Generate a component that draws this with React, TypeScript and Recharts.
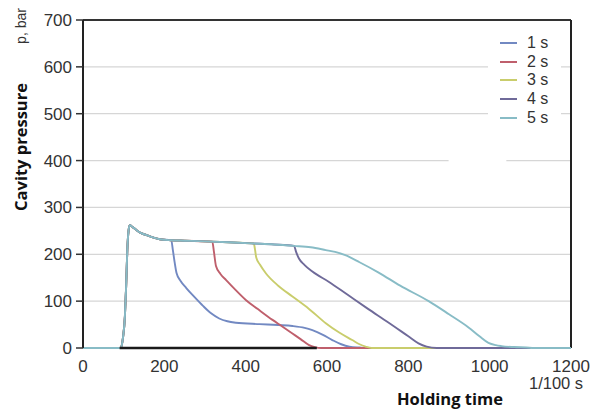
import React from 'react';
import { LineChart, Line, XAxis, YAxis, CartesianGrid, ReferenceLine, ReferenceArea } from 'recharts';

type Pt = [number, number];

const X_TICKS = [0, 200, 400, 600, 800, 1000, 1200];
const Y_TICKS = [0, 100, 200, 300, 400, 500, 600, 700];
const SERIES_NAMES = ['1 s', '2 s', '3 s', '4 s', '5 s'];
const SERIES_COLORS = ['#7289c2', '#bf5f6c', '#c9cd6c', '#6f6a99', '#88bcc6'];

// shared injection rise (1/100 s, bar)
const RISE: Pt[] = [[0, 0], [93, 0], [98, 20], [103, 67], [106, 130], [109, 210], [112, 250], [115, 262], [122, 258], [131, 252], [143, 245], [156, 241], [172, 236], [189, 232], [217, 230]];
// shared holding plateau
const PLATEAU: Pt[] = [[250, 229], [318, 227], [370, 225], [420, 223], [470, 221], [519, 218]];

const DROP_1: Pt[] = [[221, 209], [225, 185], [230, 160], [240, 143], [254, 128], [275, 108], [295, 90], [315, 74], [335, 63], [355, 57], [376, 54], [434, 51], [480, 49], [515, 47], [545, 43], [564, 38], [590, 28], [613, 17], [635, 8], [655, 3], [680, 1], [700, 0], [1100, 0]];
const DROP_2: Pt[] = [[322, 205], [327, 175], [338, 158], [352, 145], [375, 124], [401, 102], [430, 83], [466, 60], [490, 46], [515, 31], [535, 19], [556, 6], [570, 2], [585, 0], [1100, 0]];
const DROP_3: Pt[] = [[423, 210], [426, 193], [435, 178], [450, 159], [480, 133], [515, 110], [555, 84], [597, 53], [630, 33], [662, 17], [680, 8], [695, 3], [710, 0], [1100, 0]];
const DROP_4: Pt[] = [[524, 205], [531, 191], [545, 177], [564, 163], [605, 141], [650, 114], [700, 84], [750, 55], [800, 25], [825, 10], [845, 3], [870, 0], [1100, 0]];
const DROP_5: Pt[] = [[560, 215], [597, 209], [620, 205], [645, 198], [680, 183], [727, 161], [780, 133], [850, 100], [900, 72], [948, 44], [975, 25], [997, 11], [1015, 6], [1029, 4], [1060, 2], [1090, 1], [1110, 0], [1200, 0]];

const BASE_SEGMENT: Pt[] = [[90, 0], [575, 0]];
const GRID_GAP = { x1: 899, x2: 1041, y1: 392, y2: 408 };

const toObj = (pts: Pt[]) => pts.map(([x, y]) => ({ x, y }));
const upTo = (pts: Pt[], xmax: number) => pts.filter(([x]) => x <= xmax);

const SERIES = [
  toObj([...RISE, ...DROP_1]),
  toObj([...RISE, ...upTo(PLATEAU, 318), ...DROP_2]),
  toObj([...RISE, ...upTo(PLATEAU, 420), ...DROP_3]),
  toObj([...RISE, ...upTo(PLATEAU, 519), ...DROP_4]),
  toObj([...RISE, ...upTo(PLATEAU, 519), ...DROP_5]),
];

const SANS = "'Liberation Sans', Arial, Helvetica, sans-serif";
const tickStyle = { fontFamily: SANS, fontSize: 17, fill: '#333' };

export default function App() {
  return (
    <div style={{ position: 'relative', width: 598, height: 401, fontFamily: SANS }}>
      <LineChart width={598} height={401} margin={{ top: 12, right: 35, left: 15, bottom: 31 }}>
        <CartesianGrid horizontal vertical={false} stroke="#d6d6d6" strokeWidth={1.2} />
        <ReferenceArea x1={GRID_GAP.x1} x2={GRID_GAP.x2} y1={GRID_GAP.y1} y2={GRID_GAP.y2} fill="#ffffff" fillOpacity={1} stroke="none" />
        <XAxis
          type="number"
          dataKey="x"
          domain={[0, 1200]}
          ticks={X_TICKS}
          axisLine={false}
          tickLine={false}
          tick={tickStyle}
          tickMargin={6}
          height={30}
          allowDataOverflow
        />
        <YAxis
          type="number"
          domain={[0, 700]}
          ticks={Y_TICKS}
          axisLine={{ stroke: '#222', strokeWidth: 2 }}
          tickLine={{ stroke: '#333', strokeWidth: 1.5 }}
          tickSize={7}
          tickMargin={4}
          tick={tickStyle}
          width={60}
          interval={0}
        />
        <ReferenceLine y={700} stroke="#333" strokeWidth={2} />
        <ReferenceLine x={1200} stroke="#222" strokeWidth={2} />
        {SERIES.map((d, i) => (
          <Line
            key={SERIES_NAMES[i]}
            data={d}
            dataKey="y"
            name={SERIES_NAMES[i]}
            type="monotone"
            stroke={SERIES_COLORS[i]}
            strokeWidth={1.9}
            dot={false}
            isAnimationActive={false}
          />
        ))}
        <ReferenceLine
          segment={[{ x: BASE_SEGMENT[0][0], y: BASE_SEGMENT[0][1] }, { x: BASE_SEGMENT[1][0], y: BASE_SEGMENT[1][1] }]}
          stroke="#1a1a1a"
          strokeWidth={2.5}
        />
      </LineChart>

      {/* legend */}
      <div style={{ position: 'absolute', left: 480, top: 26, width: 73, height: 100, background: '#fff' }}>
        {SERIES_NAMES.map((n, i) => (
          <div key={n} style={{ position: 'absolute', left: 12, top: i * 18.7, height: 18, display: 'flex', alignItems: 'center' }}>
            <div style={{ width: 17, height: 2, background: SERIES_COLORS[i] }} />
            <span style={{ marginLeft: 10, fontSize: 16, color: '#333', lineHeight: '18px' }}>{n}</span>
          </div>
        ))}
      </div>

      {/* axis titles */}
      <div style={{ position: 'absolute', left: 13, top: 139, transform: 'translate(-50%, -50%) rotate(-90deg)', whiteSpace: 'nowrap', fontFamily: "'Open Sans', sans-serif", fontWeight: 700, fontSize: 16.5, lineHeight: '20px', color: '#111' }}>
        Cavity pressure
      </div>
      <div style={{ position: 'absolute', left: 13, top: 18, transform: 'translate(-50%, -50%) rotate(-90deg)', whiteSpace: 'nowrap', fontSize: 14, lineHeight: '16px', color: '#333' }}>
        p, bar
      </div>
      <div style={{ position: 'absolute', left: 389, top: 381, whiteSpace: 'nowrap', fontFamily: "'Open Sans', sans-serif", fontWeight: 700, fontSize: 16.5, lineHeight: '20px', color: '#111' }}>
        Holding time
      </div>
      <div style={{ position: 'absolute', left: 521, top: 367, whiteSpace: 'nowrap', fontSize: 16.5, lineHeight: '17px', color: '#333' }}>
        1/100 s
      </div>
    </div>
  );
}
